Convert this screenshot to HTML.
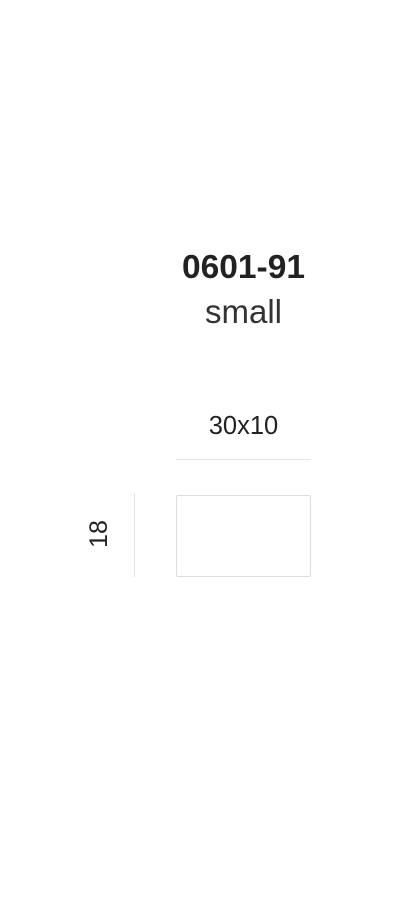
<!DOCTYPE html>
<html><head><style>
body{margin:0;width:400px;height:900px;background:#fff;position:relative;font-family:"Liberation Sans",sans-serif;color:#222;overflow:hidden}
.t{position:absolute;left:176px;width:135px;text-align:center;white-space:nowrap}
</style></head><body>
<div class="t" style="top:248px;font-size:33.5px;font-weight:bold;line-height:40px">0601-91</div>
<div class="t" style="top:292px;font-size:33px;line-height:40px;color:#333;font-weight:300">small</div>
<div class="t" style="top:409px;font-size:25.5px;line-height:34px">30x10</div>
<div style="position:absolute;left:176px;top:459px;width:135px;height:1px;background:#e4e4e4"></div>
<div style="position:absolute;left:176px;top:495px;width:133px;height:80px;border:1px solid #ddd;border-radius:2px;box-shadow:inset 0 0 1px #eee"></div>
<div style="position:absolute;left:134px;top:493px;width:1px;height:84px;background:#e4e4e4"></div>
<div style="position:absolute;left:79px;top:518px;width:40px;height:32px;line-height:32px;text-align:center;font-size:25px;transform:rotate(-90deg)">18</div>
</body></html>
